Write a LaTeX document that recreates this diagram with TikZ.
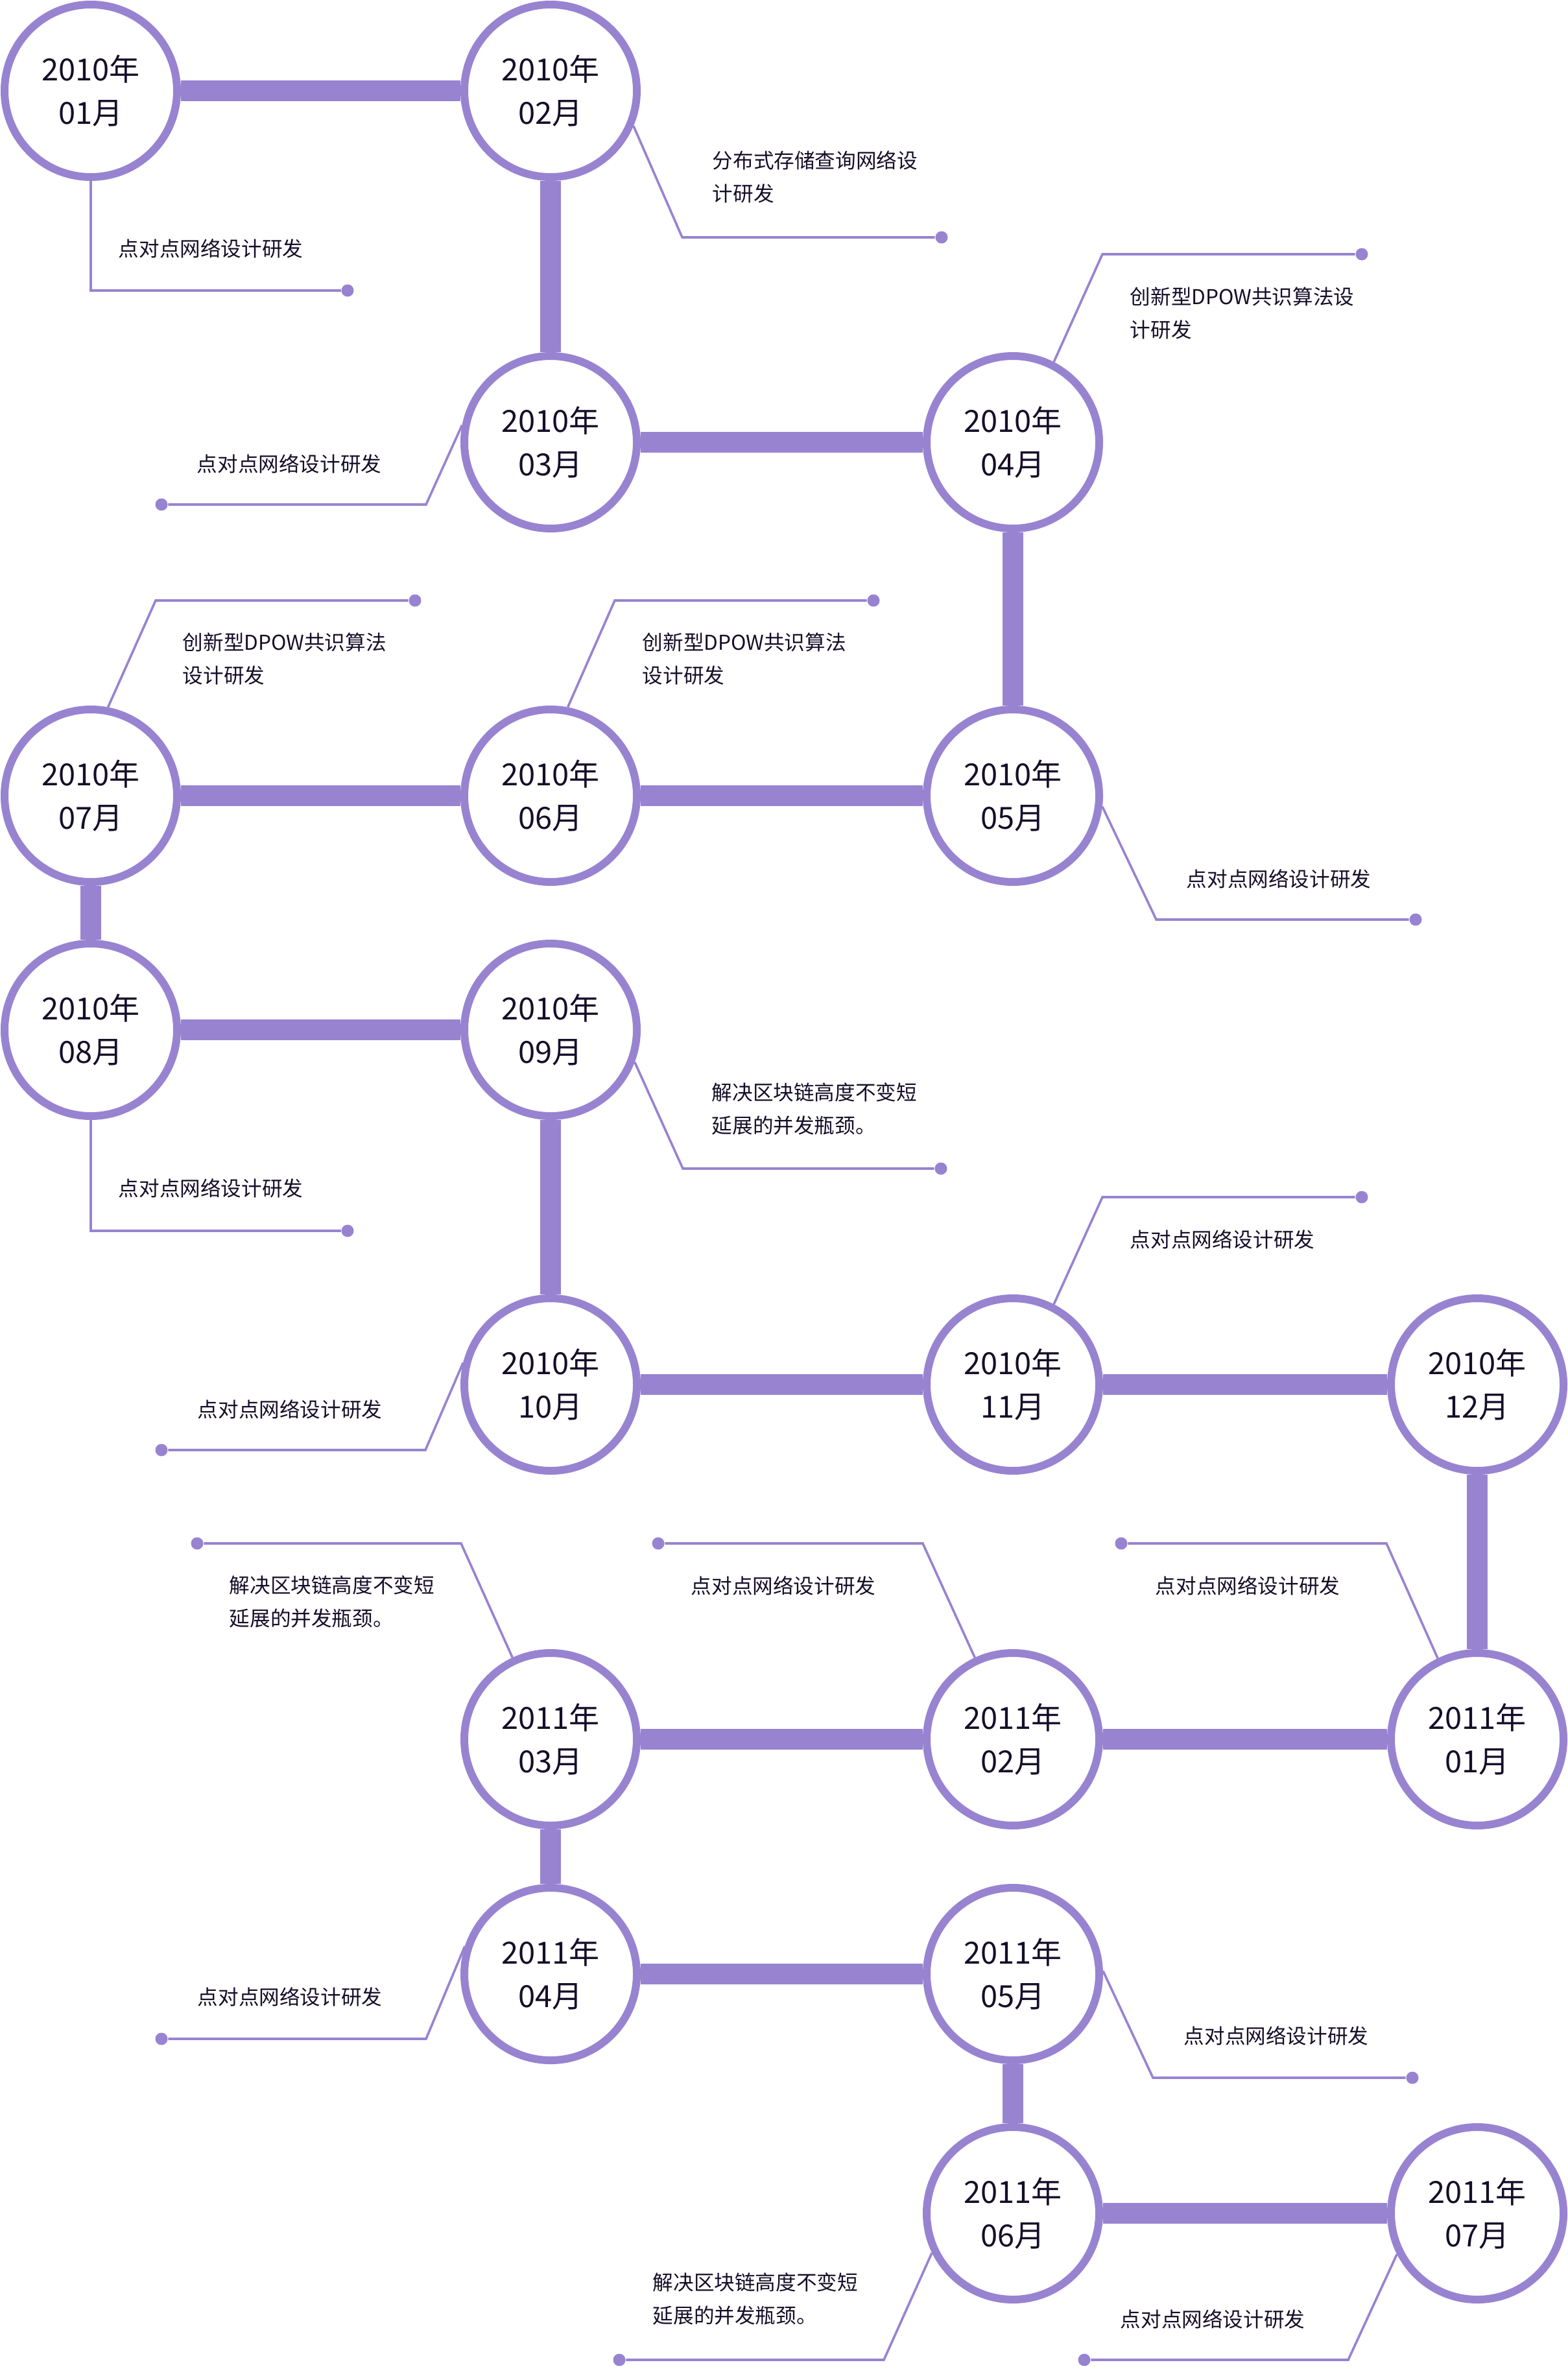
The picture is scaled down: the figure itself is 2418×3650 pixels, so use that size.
\documentclass[tikz,border=0pt]{standalone}
\usepackage{fontspec}
\setmainfont{Noto Sans CJK SC}
\usepackage{xcolor}
\usepackage{tikz}
\definecolor{lavender}{RGB}{152,131,209}
\definecolor{inkdark}{RGB}{22,14,40}
\tikzset{
    tnode/.style = {align=center, inner sep=0pt, text centered},
    month_node/.style = {tnode, circle, draw=lavender, fill=white, line width=3pt, minimum size=66.5pt, text=inkdark, font=\fontsize{11.75pt}{16.75pt}\selectfont},
    dot_node/.style = {circle, draw=none, fill=lavender, inner sep=0pt, minimum size=4.75pt},
    note_text/.style = {align=left, inner sep=0pt, anchor=west, text=inkdark, font=\fontsize{7.9pt}{12.75pt}\selectfont}
}
\tikzset{
    bar_edge/.style = {draw=lavender, line width=8pt},
    lead_line/.style = {draw=lavender, line width=0.9pt}
}

\begin{document}
\begin{tikzpicture}[x=0.25pt, y=-0.25pt]
                    \useasboundingbox (0,0) rectangle (2418,3650);
                    \node [month_node] (m1001) at (140,140)   {2010年\\01月};
                    \node [month_node] (m1002) at (849,140)   {2010年\\02月};
                    \node [month_node] (m1003) at (849,682)   {2010年\\03月};
                    \node [month_node] (m1004) at (1562,682)  {2010年\\04月};
                    \node [month_node] (m1005) at (1562,1227) {2010年\\05月};
                    \node [month_node] (m1006) at (849,1227)  {2010年\\06月};
                    \node [month_node] (m1007) at (140,1227)  {2010年\\07月};
                    \node [month_node] (m1008) at (140,1588)  {2010年\\08月};
                    \node [month_node] (m1009) at (849,1588)  {2010年\\09月};
                    \node [month_node] (m1010) at (849,2135)  {2010年\\10月};
                    \node [month_node] (m1011) at (1562,2135) {2010年\\11月};
                    \node [month_node] (m1012) at (2278,2135) {2010年\\12月};
                    \node [month_node] (m1101) at (2278,2682) {2011年\\01月};
                    \node [month_node] (m1102) at (1562,2682) {2011年\\02月};
                    \node [month_node] (m1103) at (849,2682)  {2011年\\03月};
                    \node [month_node] (m1104) at (849,3044)  {2011年\\04月};
                    \node [month_node] (m1105) at (1562,3044) {2011年\\05月};
                    \node [month_node] (m1106) at (1562,3413) {2011年\\06月};
                    \node [month_node] (m1107) at (2278,3413) {2011年\\07月};

                    \path [bar_edge] (m1001) -- (m1002) (m1002) -- (m1003) (m1003) -- (m1004)
                        (m1004) -- (m1005) (m1005) -- (m1006) (m1006) -- (m1007)
                        (m1007) -- (m1008) (m1008) -- (m1009) (m1009) -- (m1010)
                        (m1010) -- (m1011) (m1011) -- (m1012) (m1012) -- (m1101)
                        (m1101) -- (m1102) (m1102) -- (m1103) (m1103) -- (m1104)
                        (m1104) -- (m1105) (m1105) -- (m1106) (m1106) -- (m1107);

                    \node [dot_node] (d1001) at (536,448)   {};
                    \node [dot_node] (d1002) at (1452,366)  {};
                    \node [dot_node] (d1003) at (249,778)   {};
                    \node [dot_node] (d1004) at (2100,392)  {};
                    \node [dot_node] (d1005) at (2183,1418) {};
                    \node [dot_node] (d1006) at (1347,926)  {};
                    \node [dot_node] (d1007) at (640,926)   {};
                    \node [dot_node] (d1008) at (536,1898)  {};
                    \node [dot_node] (d1009) at (1451,1802) {};
                    \node [dot_node] (d1010) at (249,2236)  {};
                    \node [dot_node] (d1011) at (2100,1846) {};
                    \node [dot_node] (d1101) at (1729,2380) {};
                    \node [dot_node] (d1102) at (1015,2380) {};
                    \node [dot_node] (d1103) at (304,2380)  {};
                    \node [dot_node] (d1104) at (249,3144)  {};
                    \node [dot_node] (d1105) at (2178,3204) {};
                    \node [dot_node] (d1106) at (955,3639)  {};
                    \node [dot_node] (d1107) at (1672,3639) {};

                    \coordinate (k1001) at (140,448);
                    \coordinate (k1002) at (1052,366);
                    \coordinate (k1003) at (657,778);
                    \coordinate (k1004) at (1700,392);
                    \coordinate (k1005) at (1783,1418);
                    \coordinate (k1006) at (948,926);
                    \coordinate (k1007) at (240,926);
                    \coordinate (k1008) at (140,1898);
                    \coordinate (k1009) at (1053,1802);
                    \coordinate (k1010) at (656,2236);
                    \coordinate (k1011) at (1700,1846);
                    \coordinate (k1101) at (2138,2380);
                    \coordinate (k1102) at (1423,2380);
                    \coordinate (k1103) at (711,2380);
                    \coordinate (k1104) at (657,3144);
                    \coordinate (k1105) at (1778,3204);
                    \coordinate (k1106) at (1363,3639);
                    \coordinate (k1107) at (2079,3639);

                    \path [lead_line] (m1001.south) -- (k1001) -- (d1001);
                    \path [lead_line] (m1002.-23) -- (k1002) -- (d1002);
                    \path [lead_line] (m1003.169) -- (k1003) -- (d1003);
                    \path [lead_line] (m1004.63) -- (k1004) -- (d1004);
                    \path [lead_line] (m1005.-7) -- (k1005) -- (d1005);
                    \path [lead_line] (m1006.79) -- (k1006) -- (d1006);
                    \path [lead_line] (m1007.79) -- (k1007) -- (d1007);
                    \path [lead_line] (m1008.south) -- (k1008) -- (d1008);
                    \path [lead_line] (m1009.-21) -- (k1009) -- (d1009);
                    \path [lead_line] (m1010.166) -- (k1010) -- (d1010);
                    \path [lead_line] (m1011.63) -- (k1011) -- (d1011);
                    \path [lead_line] (m1101.116) -- (k1101) -- (d1101);
                    \path [lead_line] (m1102.115) -- (k1102) -- (d1102);
                    \path [lead_line] (m1103.115) -- (k1103) -- (d1103);
                    \path [lead_line] (m1104.162) -- (k1104) -- (d1104);
                    \path [lead_line] (m1105.2) -- (k1105) -- (d1105);
                    \path [lead_line] (m1106.-154) -- (k1106) -- (d1106);
                    \path [lead_line] (m1107.-153) -- (k1107) -- (d1107);

                    \node [note_text] (t1001) at (182,383)   {点对点网络设计研发};
                    \node [note_text] (t1002) at (1098,273)  {分布式存储查询网络设\\计研发};
                    \node [note_text] (t1003) at (303,715)   {点对点网络设计研发};
                    \node [note_text] (t1004) at (1742,483)  {创新型DPOW共识算法设\\计研发};
                    \node [note_text] (t1005) at (1829,1355) {点对点网络设计研发};
                    \node [note_text] (t1006) at (990,1016)  {创新型DPOW共识算法\\设计研发};
                    \node [note_text] (t1007) at (281,1016)  {创新型DPOW共识算法\\设计研发};
                    \node [note_text] (t1008) at (182,1832)  {点对点网络设计研发};
                    \node [note_text] (t1009) at (1097,1710) {解决区块链高度不变短\\延展的并发瓶颈。};
                    \node [note_text] (t1010) at (304,2173)  {点对点网络设计研发};
                    \node [note_text] (t1011) at (1742,1911) {点对点网络设计研发};
                    \node [note_text] (t1101) at (1781,2445) {点对点网络设计研发};
                    \node [note_text] (t1102) at (1065,2445) {点对点网络设计研发};
                    \node [note_text] (t1103) at (353,2470)  {解决区块链高度不变短\\延展的并发瓶颈。};
                    \node [note_text] (t1104) at (304,3079)  {点对点网络设计研发};
                    \node [note_text] (t1105) at (1825,3139) {点对点网络设计研发};
                    \node [note_text] (t1106) at (1006,3545) {解决区块链高度不变短\\延展的并发瓶颈。};
                    \node [note_text] (t1107) at (1727,3576) {点对点网络设计研发};
\end{tikzpicture}
\end{document}
